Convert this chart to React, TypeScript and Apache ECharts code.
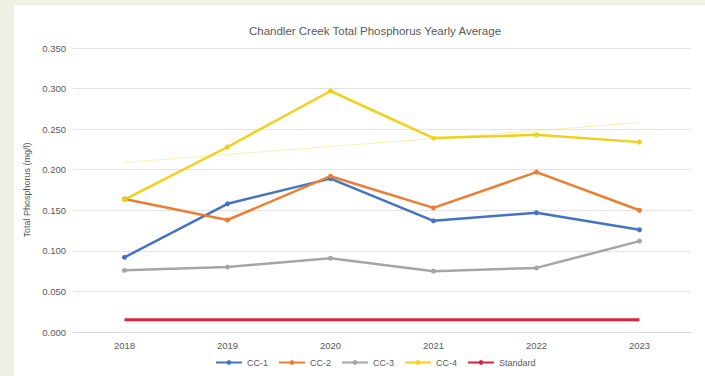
import React, { useEffect, useRef } from "react";
import * as echarts from "echarts";

const years = ["2018", "2019", "2020", "2021", "2022", "2023"];
const cc1 = [0.092, 0.158, 0.189, 0.137, 0.147, 0.126];
const cc2 = [0.164, 0.138, 0.192, 0.153, 0.197, 0.15];
const cc3 = [0.076, 0.08, 0.091, 0.075, 0.079, 0.112];
const cc4 = [0.163, 0.228, 0.297, 0.239, 0.243, 0.234];
const standard = [0.015, 0.015, 0.015, 0.015, 0.015, 0.015];
const cc4TrendEnds = [0.209, 0.258];

const seriesNames = ["CC-1", "CC-2", "CC-3", "CC-4", "Standard"];
const colors = ["#4472C4", "#ED7D31", "#A5A5A5", "#F2D01A", "#E0203C"];

export default function App() {
  const ref = useRef<HTMLDivElement>(null);
  useEffect(() => {
    if (!ref.current) return;
    const chart = echarts.init(ref.current, undefined, { renderer: "svg" });
    const mk = (i: number, data: number[], marker = true) => ({
      name: seriesNames[i],
      type: "line",
      data,
      symbol: marker ? "circle" : "none",
      symbolSize: 5,
      showSymbol: marker,
      lineStyle: { width: i === 4 ? 3 : 2.5, color: colors[i] },
      itemStyle: { color: colors[i] },
      z: 3,
    });
    chart.setOption({
      animation: false,
      backgroundColor: "#ffffff",
      title: {
        text: "Chandler Creek Total Phosphorus Yearly Average",
        left: 356,
        top: 15,
        textAlign: "center",
        textStyle: { fontSize: 11.5, fontWeight: "normal", color: "#595959", fontFamily: "Liberation Sans" },
      },
      legend: {
        bottom: 4,
        left: 196,
        itemWidth: 26,
        itemHeight: 6,
        itemGap: 10,
        data: seriesNames,
        textStyle: { fontSize: 9, color: "#595959", fontFamily: "Liberation Sans" },
      },
      grid: { left: 59, right: 14, top: 43, bottom: 44 },
      xAxis: {
        type: "category",
        data: years,
        boundaryGap: true,
        axisLine: { lineStyle: { color: "#d9d9d9" } },
        axisTick: { show: false },
        axisLabel: { fontSize: 9.5, color: "#595959", margin: 8, fontFamily: "Liberation Sans" },
      },
      yAxis: {
        type: "value",
        min: 0,
        max: 0.35,
        interval: 0.05,
        name: "Total Phosphorus (mg/l)",
        nameLocation: "middle",
        nameGap: 37,
        nameTextStyle: { fontSize: 9, color: "#595959", fontFamily: "Liberation Sans" },
        axisLine: { show: false },
        axisTick: { show: false },
        splitLine: { lineStyle: { color: "#e3e3e3" } },
        axisLabel: {
          fontSize: 9.5,
          color: "#595959",
          margin: 7,
          fontFamily: "Liberation Sans",
          formatter: (v: number) => v.toFixed(3),
        },
      },
      series: [
        mk(0, cc1),
        mk(1, cc2),
        mk(2, cc3),
        {
          ...mk(3, cc4),
          markLine: {
            silent: true,
            symbol: "none",
            label: { show: false },
            lineStyle: { color: "#F2D01A", width: 1, type: "solid", opacity: 0.35 },
            data: [
              [
                { coord: [years[0], cc4TrendEnds[0]] },
                { coord: [years[years.length - 1], cc4TrendEnds[1]] },
              ],
            ],
          },
        },
        mk(4, standard, false),
      ],
    });
    return () => chart.dispose();
  }, []);
  return (
    <div
      style={{
        position: "absolute",
        left: 0,
        top: 0,
        width: 705,
        height: 376,
        background: "#eef0e2",
      }}
    >
      <div
        ref={ref}
        style={{ position: "absolute", left: 14, top: 5, width: 691, height: 371, background: "#fff" }}
      />
    </div>
  );
}
